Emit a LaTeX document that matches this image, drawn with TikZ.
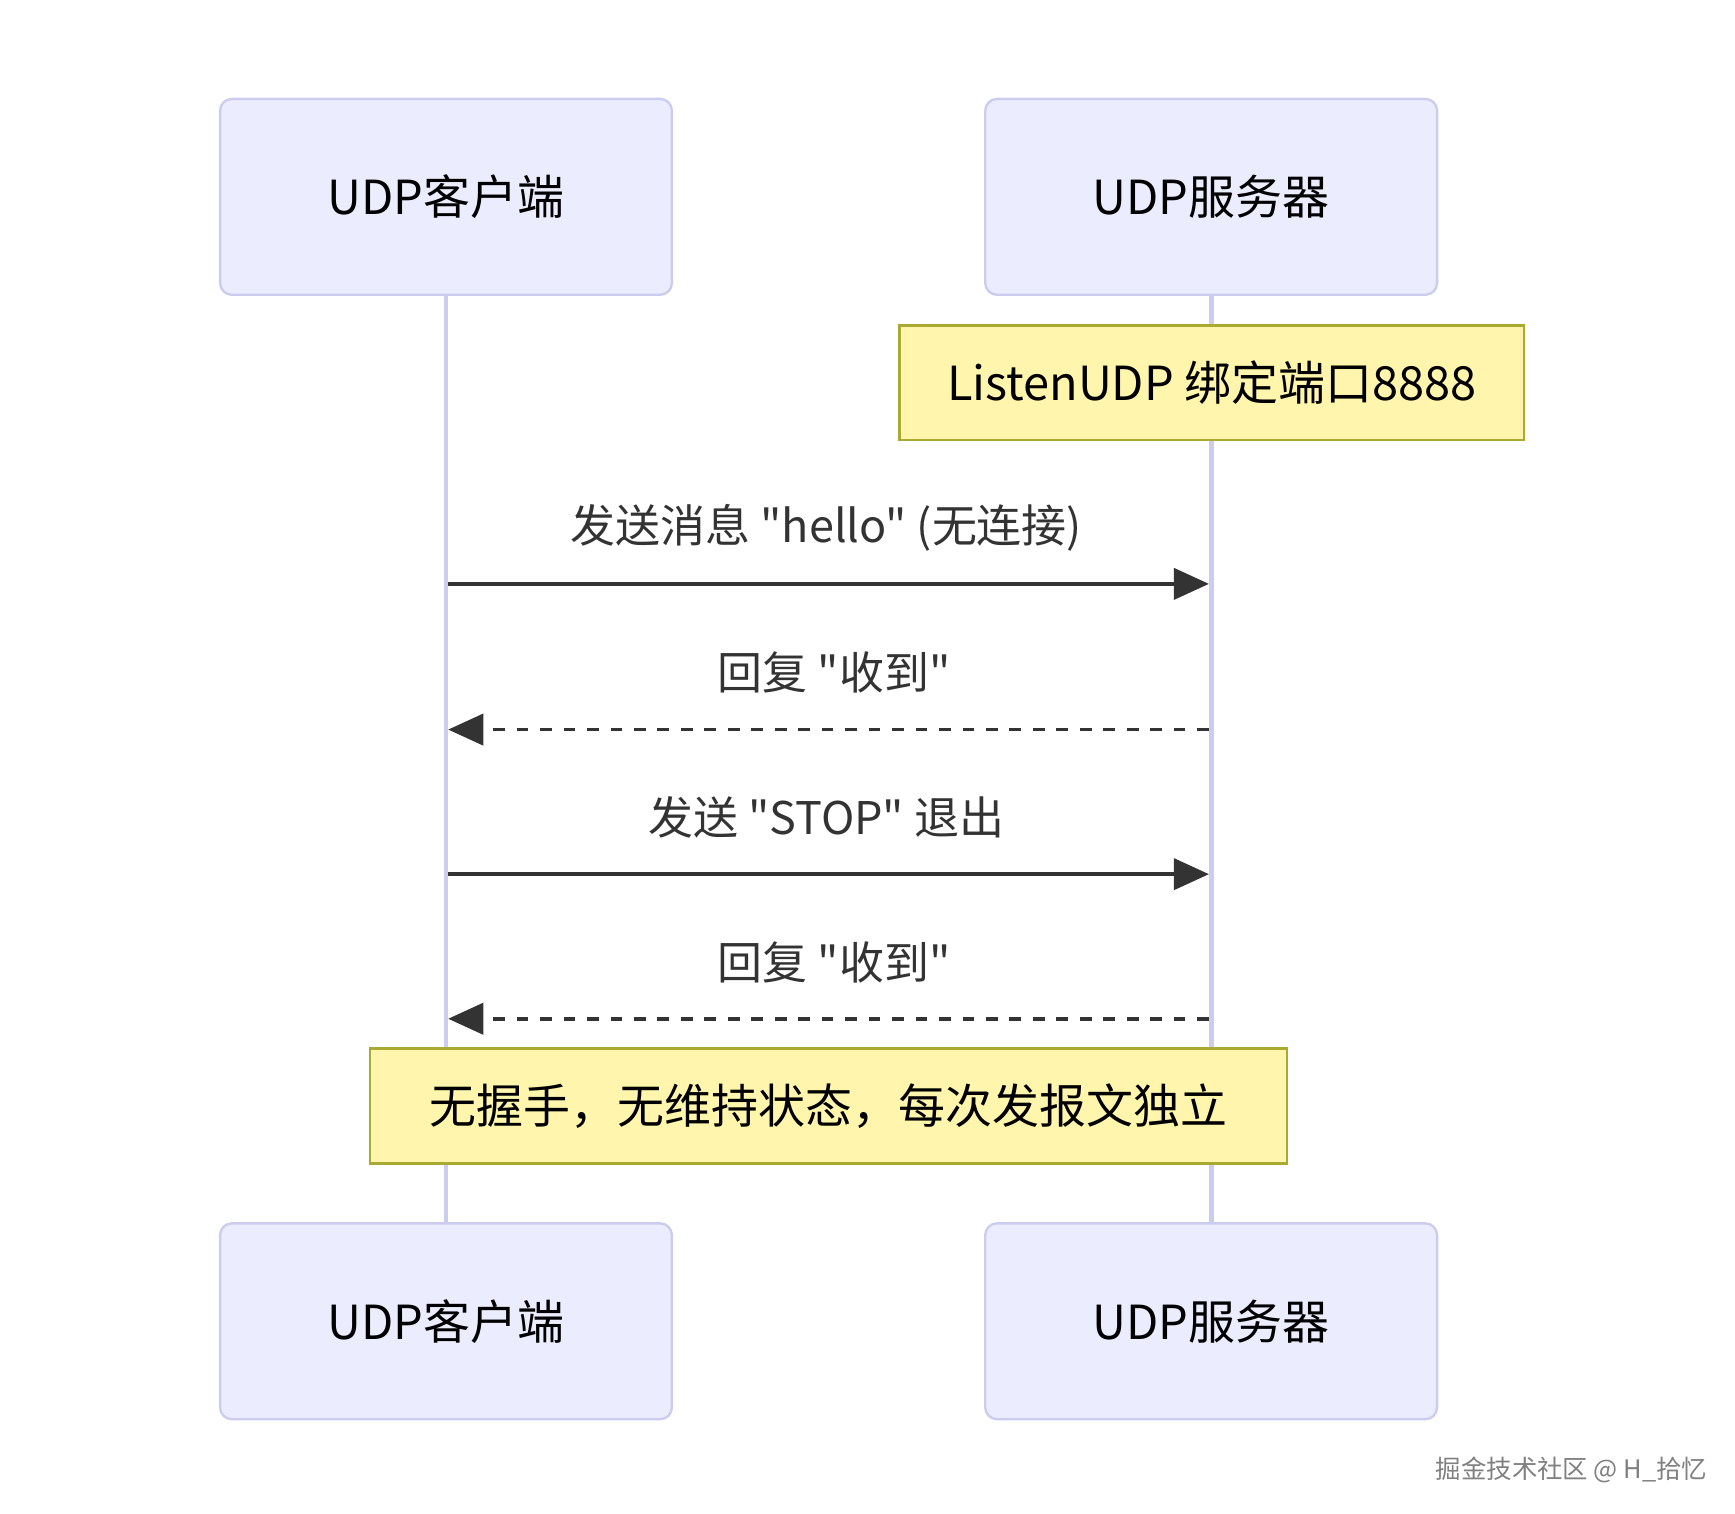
\documentclass[tikz,border=0pt]{standalone}
\usepackage{fontspec}
\setmainfont{Noto Sans CJK SC}[Ligatures=TeXOff]
\usetikzlibrary{arrows.meta,positioning}
\definecolor{actorfill}{HTML}{ECECFF}
\definecolor{actorline}{HTML}{CCCCEE}
\definecolor{notefill}{HTML}{FFF5AD}
\definecolor{noteline}{HTML}{AAAA33}
\definecolor{msgcol}{HTML}{333333}
\newcommand{\dq}{\symbol{34}}
\begin{document}
\begin{tikzpicture}
          [x=0.01cm,y=-0.01cm,
          actor/.style={rectangle,rounded corners=3pt,draw=actorline,fill=actorfill,line width=0.6pt,
            minimum width=4.06cm,minimum height=1.76cm,font=\fontsize{12}{14}\selectfont,text=black},
          note/.style={rectangle,draw=noteline,fill=notefill,line width=0.7pt,
            minimum height=1.03cm,font=\fontsize{12}{14}\selectfont,text=black},
          lifeline/.style={draw=actorline,line width=1.2pt},
          msg/.style={draw=msgcol,line width=0.9pt,-{Triangle[length=9pt,width=8pt]}},
          reply/.style={msg,dash pattern=on 3pt off 3pt},
          msglabel/.style={font=\fontsize{11.5}{14}\selectfont,text=msgcol}]
          \useasboundingbox (0,0) rectangle (1560,1361);
          % lifelines
          \coordinate (c-top) at (401,265);
          \coordinate (c-bot) at (401,1100);
          \coordinate (s-top) at (1089,265);
          \coordinate (s-bot) at (1089,1100);
          \draw[lifeline] (c-top) -- (c-bot);
          \draw[lifeline] (s-top) -- (s-bot);
          \node[actor] (client)  at (401,177) {UDP客户端};
          \node[actor] (server)  at (1089,177) {UDP服务器};
          \node[actor] (client2) at (401,1188) {UDP客户端};
          \node[actor] (server2) at (1089,1188) {UDP服务器};
          \node[note,minimum width=5.61cm] (listen) at (1089.5,344) {ListenUDP 绑定端口8888};
          % messages
          \coordinate (c1) at (403,525);  \coordinate (s1) at (1087,525);
          \coordinate (c2) at (403,656);  \coordinate (s2) at (1087,656);
          \coordinate (c3) at (403,786);  \coordinate (s3) at (1087,786);
          \coordinate (c4) at (403,916);  \coordinate (s4) at (1087,916);
          \draw[msg]   (c1) -- (s1);
          \draw[reply] (s2) -- (c2);
          \draw[msg]   (c3) -- (s3);
          \draw[reply] (s4) -- (c4);
          \node[msglabel] (m1) at (743,475) {发送消息 \dq hello\dq{} (无连接)};
          \node[msglabel] (m2) at (750,605) {回复 \dq 收到\dq};
          \node[msglabel] (m3) at (743,735) {发送 \dq STOP\dq{} 退出};
          \node[msglabel] (m4) at (750,865) {回复 \dq 收到\dq};
          \node[note,minimum width=8.24cm] (stateless) at (745,994.5) {无握手，无维持状态，每次发报文独立};
          \node[font=\fontsize{6.5}{8}\selectfont,text=gray] (mark) at (1413,1322) {掘金技术社区 @ H\_拾忆};
        \end{tikzpicture}
\end{document}
